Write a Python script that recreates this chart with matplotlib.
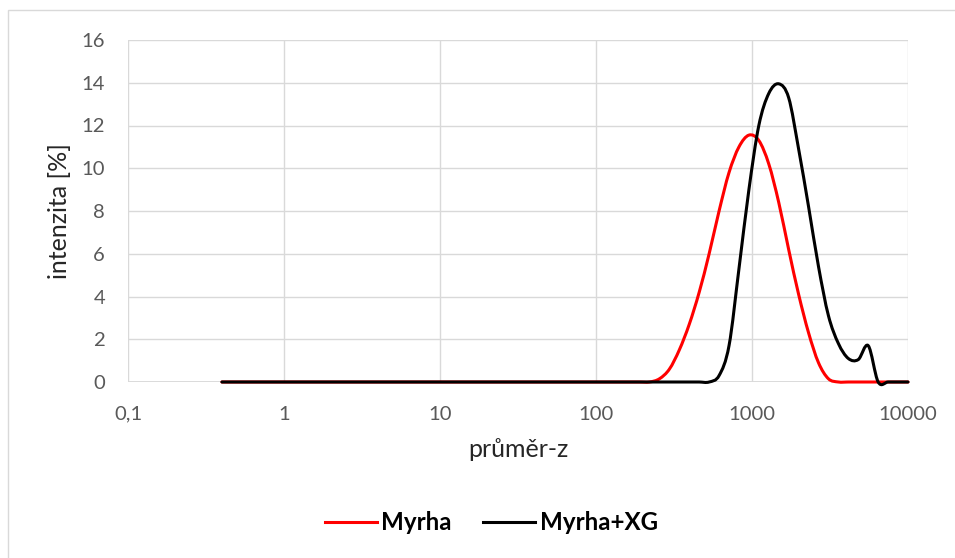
import matplotlib
matplotlib.use("Agg")
import matplotlib.pyplot as plt
import numpy as np
from matplotlib.path import Path
from matplotlib.patches import PathPatch, Rectangle
from matplotlib.lines import Line2D

plt.rcParams['font.family'] = ['Lato', 'DejaVu Sans']

# velikostní třídy (nm)
velikost = [0.4, 0.4632, 0.5365, 0.6213, 0.7195, 0.8332, 0.9649, 1.117, 1.294, 1.499,
            1.736, 2.01, 2.328, 2.696, 3.122, 3.615, 4.187, 4.849, 5.615, 6.503,
            7.531, 8.721, 10.1, 11.7, 13.54, 15.69, 18.17, 21.04, 24.36, 28.21,
            32.67, 37.84, 43.82, 50.75, 58.77, 68.06, 78.82, 91.28, 105.7, 122.4,
            141.8, 164.2, 190.1, 220.2, 255.0, 295.3, 342.0, 396.1, 458.7, 531.2,
            615.1, 712.4, 825.0, 955.4, 1106, 1281, 1484, 1718, 1990, 2305,
            2669, 3091, 3580, 4145, 4801, 5560, 6439, 7456, 8635, 10000]

# intenzita [%]
myrha = [0, 0, 0, 0, 0, 0, 0, 0, 0, 0,
         0, 0, 0, 0, 0, 0, 0, 0, 0, 0,
         0, 0, 0, 0, 0, 0, 0, 0, 0, 0,
         0, 0, 0, 0, 0, 0, 0, 0, 0, 0,
         0, 0, 0, 0, 0.15, 0.6, 1.5, 2.7, 4.2, 6.0,
         8.0, 9.8, 11.0, 11.55, 11.3, 10.2, 8.4, 6.2, 4.1, 2.3,
         0.9, 0.15, 0, 0, 0, 0, 0, 0, 0, 0]

myrha_xg = [0, 0, 0, 0, 0, 0, 0, 0, 0, 0,
            0, 0, 0, 0, 0, 0, 0, 0, 0, 0,
            0, 0, 0, 0, 0, 0, 0, 0, 0, 0,
            0, 0, 0, 0, 0, 0, 0, 0, 0, 0,
            0, 0, 0, 0, 0, 0, 0, 0, 0, 0,
            0.3, 1.7, 5.3, 9.0, 12.0, 13.5, 13.95, 13.3, 10.9, 8.2,
            5.4, 3.1, 1.8, 1.1, 1.05, 1.7, 0, 0, 0, 0]

x_ticks = [0.1, 1, 10, 100, 1000, 10000]
x_labels = ['0,1', '1', '10', '100', '1000', '10000']
y_ticks = [0, 2, 4, 6, 8, 10, 12, 14, 16]


def hladka_krivka(xs, ys):
    # vyhlazená čára jako Bézierova křivka (log osa x)
    pts = np.column_stack([np.log10(xs), np.asarray(ys, dtype=float)])
    n = len(pts)
    verts = [pts[0]]
    codes = [Path.MOVETO]
    for i in range(n - 1):
        p0 = pts[i - 1] if i > 0 else pts[i]
        p1 = pts[i]
        p2 = pts[i + 1]
        p3 = pts[i + 2] if i + 2 < n else pts[i + 1]
        verts += [p1 + (p2 - p0) / 6, p2 - (p3 - p1) / 6, p2]
        codes += [Path.CURVE4] * 3
    verts = np.array(verts)
    verts[:, 0] = 10 ** verts[:, 0]
    return Path(verts, codes)


fig = plt.figure(figsize=(9.55, 5.58), dpi=100)
ax = fig.add_axes([128 / 955, 1 - 382 / 558, 780 / 955, 342 / 558])

# rámeček grafu
fig.patches.append(Rectangle((8 / 955, -0.1), 1.0, 1 - 10 / 558 + 0.1,
                             transform=fig.transFigure, fill=False,
                             edgecolor='#d9d9d9', lw=1.0))

ax.set_xscale('log')
ax.set_xlim(0.1, 10000)
ax.set_ylim(0, 16)

for y, barva in [(myrha, '#ff0000'), (myrha_xg, '#000000')]:
    ax.add_patch(PathPatch(hladka_krivka(velikost, y), facecolor='none',
                           edgecolor=barva, lw=2.2, joinstyle='round',
                           capstyle='round', clip_on=False, zorder=3))

ax.set_xticks(x_ticks)
ax.set_xticklabels(x_labels)
ax.xaxis.set_minor_locator(matplotlib.ticker.NullLocator())
ax.set_yticks(y_ticks)
ax.grid(True, color='#d9d9d9', lw=1.0)
ax.set_axisbelow(True)
for s in ax.spines.values():
    s.set_visible(False)
ax.axhline(0, color='#d9d9d9', lw=1.3, zorder=1)

ax.tick_params(length=0, labelsize=14.6, labelcolor='#595959')
ax.tick_params(axis='y', pad=16.5)
ax.tick_params(axis='x', pad=17)

ax.set_xlabel('průměr-z', fontsize=18, color='#262626')
ax.set_ylabel('intenzita [%]', fontsize=18, color='#262626')
ax.xaxis.set_label_coords(0.5, -0.1637)
ax.yaxis.set_label_coords(-0.073, 0.5)

handles = [Line2D([], [], color='#ff0000', lw=2.2),
           Line2D([], [], color='#000000', lw=2.2)]
fig.legend(handles, ['Myrha', 'Myrha+XG'], loc='center', ncol=2,
           bbox_to_anchor=(491.5 / 955, 1 - 523 / 558), frameon=False,
           prop={'weight': 'bold', 'size': 17.4}, handlelength=2.15,
           handletextpad=0.2, columnspacing=1.3)

plt.savefig('out.png', dpi=100)
